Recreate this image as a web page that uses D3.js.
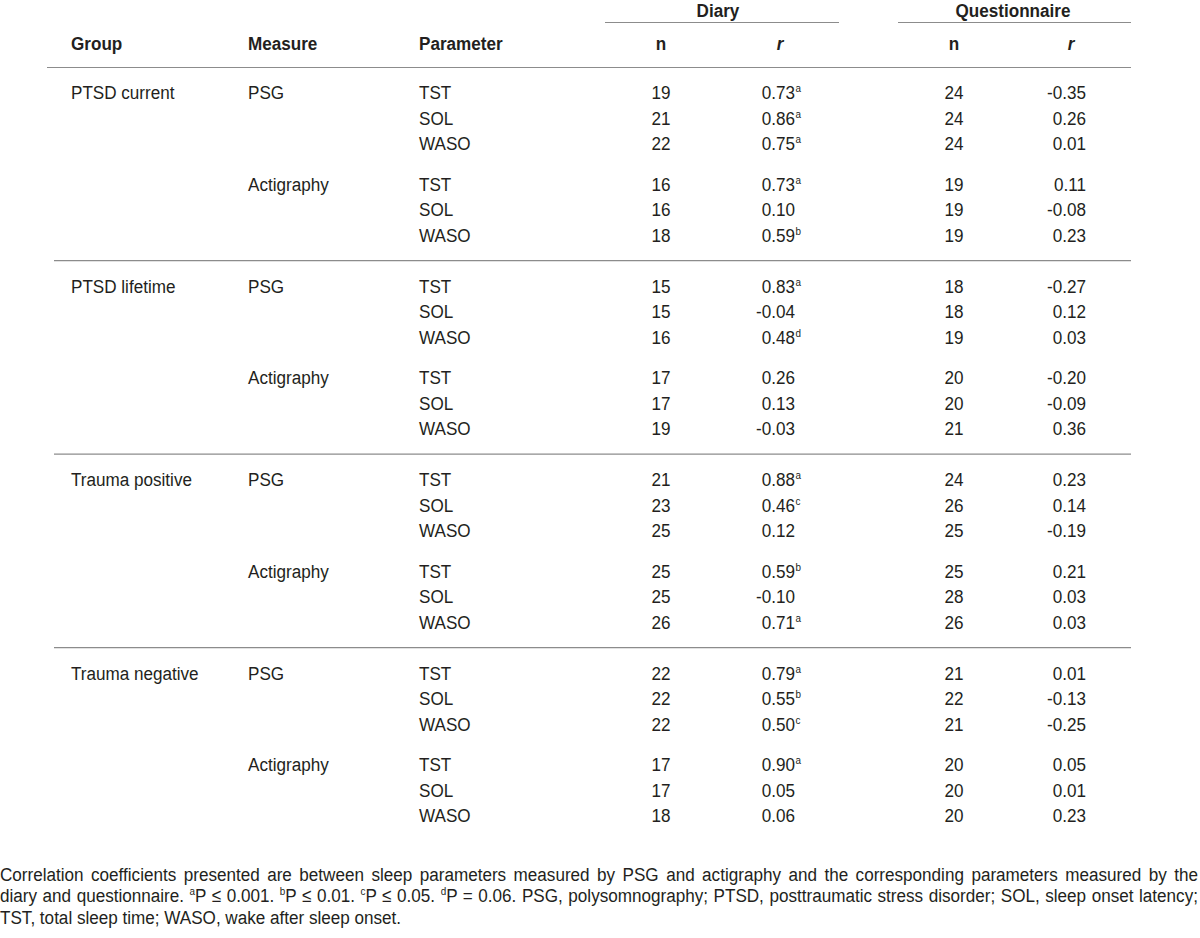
<!DOCTYPE html>
<html>
<head>
<meta charset="utf-8">
<script src="https://cdn.jsdelivr.net/npm/d3@7"></script>
<style>
  html, body { margin: 0; padding: 0; background: #fff; }
  svg { display: block; }
  text { font-family: "Liberation Sans", Arial, sans-serif; fill: #231f20; }
</style>
</head>
<body>
<script>
// ---------- data ----------
const groups = ["PTSD current", "PTSD lifetime", "Trauma positive", "Trauma negative"];
const measures = ["PSG", "Actigraphy"];
const parameters = ["TST", "SOL", "WASO"];
const diaryN = [19,21,22,16,16,18, 15,15,16,17,17,19, 21,23,25,25,25,26, 22,22,22,17,17,18];
const diaryR = ["0.73","0.86","0.75","0.73","0.10","0.59", "0.83","-0.04","0.48","0.26","0.13","-0.03",
                "0.88","0.46","0.12","0.59","-0.10","0.71", "0.79","0.55","0.50","0.90","0.05","0.06"];
const diarySig = ["a","a","a","a","","b", "a","","d","","","", "a","c","","b","","a", "a","b","c","a","",""];
const questN = [24,24,24,19,19,19, 18,18,19,20,20,21, 24,26,25,25,28,26, 21,22,21,20,20,20];
const questR = ["-0.35","0.26","0.01","0.11","-0.08","0.23", "-0.27","0.12","0.03","-0.20","-0.09","0.36",
                "0.23","0.14","-0.19","0.21","0.03","0.03", "0.01","-0.13","-0.25","0.05","0.01","0.23"];
const columnHeaders = ["Group", "Measure", "Parameter", "n", "r", "n", "r"];
const spanHeaders = ["Diary", "Questionnaire"];
const footnoteLines = [
  [["Correlation coefficients presented are between sleep parameters measured by PSG and actigraphy and the corresponding parameters measured by the", false]],
  [["diary and questionnaire. ", false], ["a", true], ["P ≤ 0.001. ", false], ["b", true], ["P ≤ 0.01. ", false], ["c", true], ["P ≤ 0.05. ", false], ["d", true], ["P = 0.06. PSG, polysomnography; PTSD, posttraumatic stress disorder; SOL, sleep onset latency;", false]],
  [["TST, total sleep time; WASO, wake after sleep onset.", false]]
];

// ---------- layout ----------
const W = 1200, H = 938;
const FS = 19;          // font size
const SX = 0.9;         // horizontal condensing of the face
const SUP = 11;
const svg = d3.select("body").append("svg").attr("width", W).attr("height", H);
const lineColor = "#8c8c8c";
const lines = svg.append("g");
const tg = svg.append("g").attr("transform", `scale(${SX},1)`).attr("font-size", FS);
const X = x => x / SX;

// column x positions (screen px)
const colX = {group: 71, measure: 248, param: 419, dn: 661, dr: 795, qn: 954, qr: 1086};

// row y: group index -> first-row baseline, then offsets within group
const yGroup = d3.scaleLinear().domain([0, 1]).range([99.5, 293]);
const rowOffsets = [0, 25.4, 50.8, 91.5, 116.9, 142.3];
const rows = [];
groups.forEach((g, gi) => {
  measures.forEach((m, mi) => {
    parameters.forEach((p, pi) => {
      const k = gi * 6 + mi * 3 + pi;
      rows.push({gi, mi, pi, k, group: g, measure: m, param: p,
                 y: yGroup(gi) + rowOffsets[mi * 3 + pi]});
    });
  });
});

// span header lines and texts
const spans = [
  {label: spanHeaders[0], x1: 605, x2: 839, cx: 718},
  {label: spanHeaders[1], x1: 898, x2: 1131, cx: 1013}
];
spans.forEach(s => {
  tg.append("text").attr("x", X(s.cx)).attr("y", 17).attr("text-anchor", "middle")
     .attr("font-weight", "bold").text(s.label);
  lines.append("line").attr("x1", s.x1).attr("x2", s.x2).attr("y1", 22.5).attr("y2", 22.5)
     .attr("stroke", lineColor).attr("stroke-width", 1.2);
});

// column headers
const headerY = 50;
const hdrPos = [
  {x: colX.group, anchor: "start"}, {x: colX.measure, anchor: "start"}, {x: colX.param, anchor: "start"},
  {x: colX.dn, anchor: "middle"}, {x: 780, anchor: "middle"}, {x: colX.qn, anchor: "middle"}, {x: 1071, anchor: "middle"}
];
columnHeaders.forEach((h, i) => {
  tg.append("text").attr("x", X(hdrPos[i].x)).attr("y", headerY).attr("text-anchor", hdrPos[i].anchor)
     .attr("font-weight", "bold").attr("font-style", h === "r" ? "italic" : "normal").text(h);
});
lines.append("line").attr("x1", 47).attr("x2", 1131).attr("y1", 67.5).attr("y2", 67.5)
   .attr("stroke", lineColor).attr("stroke-width", 1.2);

// group separators
d3.range(1, groups.length).forEach(gi => {
  const y = yGroup(gi) - 32.3;
  lines.append("line").attr("x1", 54).attr("x2", 1131).attr("y1", y).attr("y2", y)
     .attr("stroke", lineColor).attr("stroke-width", 1.2);
});

// body
tg.selectAll("text.grp").data(rows.filter(r => r.mi === 0 && r.pi === 0)).join("text")
  .attr("class", "grp").attr("x", X(colX.group)).attr("y", d => d.y).text(d => d.group);
tg.selectAll("text.meas").data(rows.filter(r => r.pi === 0)).join("text")
  .attr("class", "meas").attr("x", X(colX.measure)).attr("y", d => d.y).text(d => d.measure);
tg.selectAll("text.par").data(rows).join("text")
  .attr("class", "par").attr("x", X(colX.param)).attr("y", d => d.y).text(d => d.param);
tg.selectAll("text.dn").data(rows).join("text")
  .attr("class", "dn").attr("x", X(colX.dn)).attr("y", d => d.y).attr("text-anchor", "middle")
  .text(d => diaryN[d.k]);
tg.selectAll("text.dr").data(rows).join("text")
  .attr("class", "dr").attr("x", X(colX.dr)).attr("y", d => d.y).attr("text-anchor", "end")
  .text(d => diaryR[d.k]);
tg.selectAll("text.ds").data(rows.filter(d => diarySig[d.k])).join("text")
  .attr("class", "ds").attr("x", X(colX.dr + 0.5)).attr("y", d => d.y - 7).attr("font-size", SUP)
  .text(d => diarySig[d.k]);
tg.selectAll("text.qn").data(rows).join("text")
  .attr("class", "qn").attr("x", X(colX.qn)).attr("y", d => d.y).attr("text-anchor", "middle")
  .text(d => questN[d.k]);
tg.selectAll("text.qr").data(rows).join("text")
  .attr("class", "qr").attr("x", X(colX.qr)).attr("y", d => d.y).attr("text-anchor", "end")
  .text(d => questR[d.k]);

// footnote (justified first two lines)
const footY = [881, 902.5, 924];
footnoteLines.forEach((parts, li) => {
  const t = tg.append("text").attr("x", 0).attr("y", footY[li]);
  parts.forEach(([txt, sup], pi) => {
    const ts = t.append("tspan").text(txt);
    if (sup) ts.attr("font-size", SUP).attr("dy", -7);
    else if (pi > 0 && parts[pi - 1][1]) ts.attr("dy", 7);
  });
  if (li < 2) {
    const len = t.node().getComputedTextLength();
    const full = parts.map(p => p[0]).join("");
    const spaces = (full.trim().match(/ /g) || []).length;
    const target = X(1198);
    t.attr("word-spacing", (target - len) / spaces);
  }
});
</script>
</body>
</html>
